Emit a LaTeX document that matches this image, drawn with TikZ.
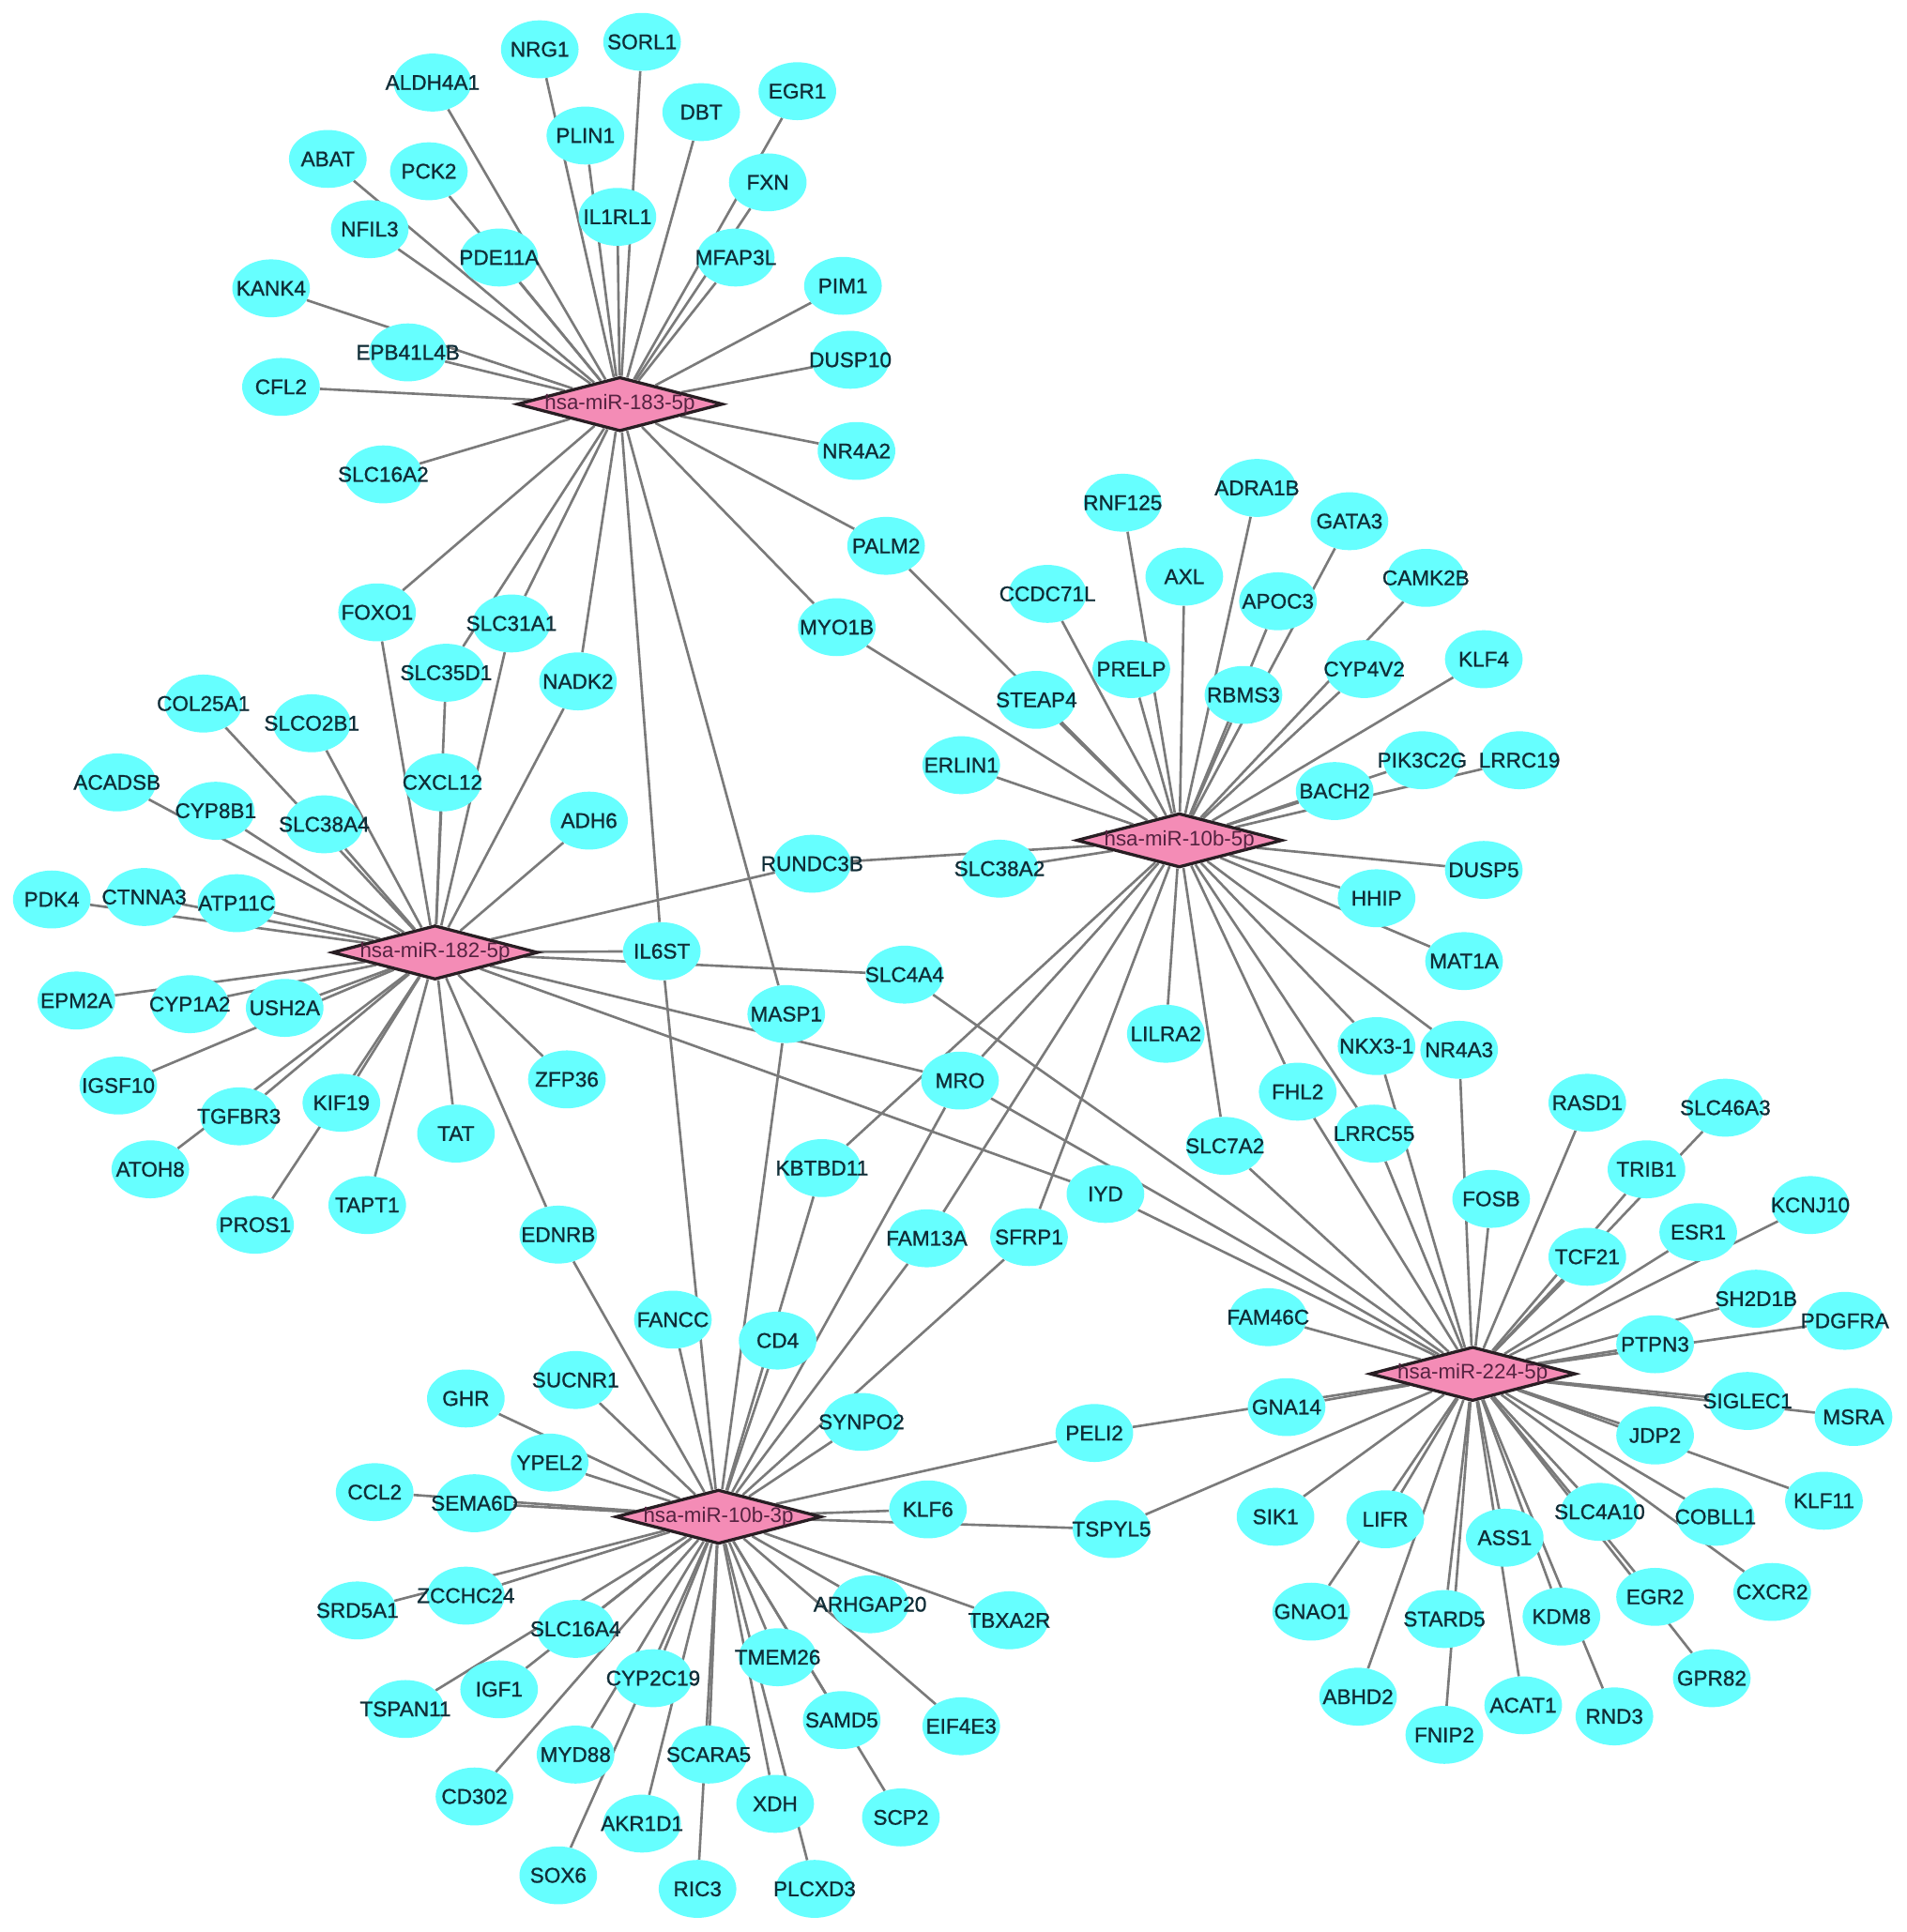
\documentclass[tikz,border=0pt]{standalone}
\usepackage{fontspec}
\usetikzlibrary{shapes.geometric}
\newfontfamily\genefont{Liberation Sans}[FakeBold=1.0]
\newfontfamily\hubfont{Liberation Sans}
\definecolor{genefill}{RGB}{102,255,255}
\definecolor{genetext}{RGB}{15,45,55}
\definecolor{hubfill}{RGB}{244,140,182}
\definecolor{hubdraw}{RGB}{40,30,35}
\definecolor{hubtext}{RGB}{85,35,65}
\definecolor{edgegray}{RGB}{122,122,122}
\pgfdeclarelayer{bg}
\pgfdeclarelayer{edges}
\pgfsetlayers{bg,edges,main}
\tikzset{
  gene/.style={ellipse, fill=genefill, draw=none, minimum width=63pt, minimum height=47pt,
    inner sep=0pt, text=genetext, font={\genefont\fontsize{17.2}{19}\selectfont}},
  mirna/.style={diamond, fill=hubfill, draw=hubdraw, line width=2.5pt, minimum width=167pt,
    minimum height=44pt, inner sep=0pt, text=hubtext, font={\hubfont\fontsize{17}{19}\selectfont}},
  edge/.style={draw=edgegray, line width=2pt}
}
\begin{document}
\begin{tikzpicture}[x=1pt,y=-1pt]
\begin{pgfonlayer}{bg}
\fill[white] (0,0) rectangle (1547,1568);
\end{pgfonlayer}
\useasboundingbox (0,0) rectangle (1547,1568);
% microRNA hubs
\node[mirna] (m183) at (503,328) {\makebox[0pt]{hsa-miR-183-5p}};
\node[mirna] (m182) at (353,773) {\makebox[0pt]{hsa-miR-182-5p}};
\node[mirna] (m10b5) at (957,682) {\makebox[0pt]{hsa-miR-10b-5p}};
\node[mirna] (m224) at (1195,1115) {\makebox[0pt]{hsa-miR-224-5p}};
\node[mirna] (m10b3) at (583,1231) {\makebox[0pt]{hsa-miR-10b-3p}};
% target genes
\foreach \n/\x/\y in {
NRG1/438/40, SORL1/521/34, ALDH4A1/351/67, EGR1/647/74, DBT/569/91, PLIN1/475/110,
ABAT/266/129, PCK2/348/139, FXN/623/148, IL1RL1/501/176, NFIL3/300/186, PDE11A/405/209,
MFAP3L/597/209, KANK4/220/234, PIM1/684/232, EPB41L4B/331/286, DUSP10/690/292, CFL2/228/314,
NR4A2/695/366, SLC16A2/311/385, PALM2/719/443, FOXO1/306/497, SLC31A1/415/506, MYO1B/679/509,
SLC35D1/362/546, NADK2/469/553,
COL25A1/165/571, SLCO2B1/253/587, ACADSB/95/635, CXCL12/359/635, CYP8B1/175/658, SLC38A4/263/669,
ADH6/478/666, PDK4/42/730, CTNNA3/117/728, ATP11C/192/733, EPM2A/62/812, CYP1A2/154/815,
USH2A/231/818, IGSF10/96/881, ZFP36/460/876, TGFBR3/194/906, KIF19/277/895, TAT/370/920,
ATOH8/122/949, PROS1/207/994, TAPT1/298/978, EDNRB/453/1002,
RUNDC3B/659/701, SLC38A2/811/705, IL6ST/537/772, SLC4A4/734/791, MASP1/638/823, MRO/779/877,
LILRA2/946/839, KBTBD11/667/948, IYD/897/969, FAM13A/752/1005, SFRP1/835/1004, FANCC/546/1071,
CD4/631/1088,
RNF125/911/408, ADRA1B/1020/396, GATA3/1095/423, AXL/961/468, CAMK2B/1157/469, CCDC71L/850/482,
APOC3/1037/488, PRELP/918/543, CYP4V2/1107/543, KLF4/1204/535, STEAP4/841/568, RBMS3/1009/564,
ERLIN1/780/621, PIK3C2G/1154/617, LRRC19/1233/617, BACH2/1083/642, DUSP5/1204/706, HHIP/1117/729,
MAT1A/1188/780, NKX3-1/1117/849, NR4A3/1184/852,
FHL2/1053/886, LRRC55/1115/920, SLC7A2/994/930, RASD1/1288/895, SLC46A3/1400/899, TRIB1/1336/949,
FOSB/1210/973, KCNJ10/1469/978, ESR1/1378/1000, TCF21/1288/1020, SH2D1B/1425/1054, FAM46C/1029/1069,
PDGFRA/1497/1072, PTPN3/1343/1091, GNA14/1044/1142, SIGLEC1/1418/1137, MSRA/1504/1150, JDP2/1343/1165,
KLF11/1480/1218, SIK1/1035/1231, LIFR/1124/1233, SLC4A10/1298/1227, COBLL1/1392/1231, ASS1/1221/1248,
EGR2/1343/1296, CXCR2/1438/1292, GNAO1/1064/1308, STARD5/1172/1314, KDM8/1267/1312, GPR82/1389/1362,
ABHD2/1102/1377, ACAT1/1236/1384, RND3/1310/1393, FNIP2/1172/1408,
SUCNR1/467/1120, GHR/378/1135, SYNPO2/699/1154, PELI2/888/1163, YPEL2/446/1187, CCL2/304/1211,
SEMA6D/385/1220, KLF6/753/1225, TSPYL5/902/1241, SRD5A1/290/1307, ZCCHC24/378/1295, ARHGAP20/706/1302,
TBXA2R/819/1315, SLC16A4/467/1322, TSPAN11/329/1387, IGF1/405/1371, CYP2C19/530/1362, TMEM26/631/1345,
SAMD5/683/1396, EIF4E3/780/1401, MYD88/467/1424, SCARA5/575/1424, CD302/385/1458, XDH/629/1464,
SCP2/731/1475, AKR1D1/521/1480, SOX6/453/1522, RIC3/566/1533, PLCXD3/661/1533}
  \node[gene] (\n) at (\x,\y) {\makebox[0pt]{\n}};
% interactions
\begin{pgfonlayer}{edges}
\foreach \t in {NRG1, SORL1, ALDH4A1, EGR1, DBT, PLIN1, ABAT, PCK2, FXN, IL1RL1, NFIL3, PDE11A,
  MFAP3L, KANK4, PIM1, EPB41L4B, DUSP10, CFL2, NR4A2, SLC16A2, PALM2, MYO1B, FOXO1, SLC31A1,
  SLC35D1, NADK2, IL6ST, MASP1}
  \draw[edge] (m183) -- (\t);
\foreach \t in {FOXO1, SLC31A1, SLC35D1, NADK2, CXCL12, ADH6, COL25A1, SLCO2B1, ACADSB, CYP8B1,
  SLC38A4, PDK4, CTNNA3, ATP11C, EPM2A, CYP1A2, USH2A, IGSF10, TGFBR3, ATOH8, KIF19, PROS1, TAPT1,
  TAT, ZFP36, EDNRB, RUNDC3B, IL6ST, SLC4A4, MRO, IYD}
  \draw[edge] (m182) -- (\t);
\foreach \t in {RNF125, ADRA1B, GATA3, AXL, CAMK2B, CCDC71L, APOC3, PRELP, CYP4V2, KLF4, STEAP4,
  RBMS3, ERLIN1, PIK3C2G, LRRC19, BACH2, DUSP5, HHIP, MAT1A, NKX3-1, NR4A3, LRRC55, FHL2, SLC7A2,
  LILRA2, SFRP1, FAM13A, MRO, KBTBD11, SLC38A2, RUNDC3B, MYO1B, PALM2}
  \draw[edge] (m10b5) -- (\t);
\foreach \t in {FHL2, LRRC55, NKX3-1, NR4A3, SLC7A2, FOSB, RASD1, SLC46A3, TRIB1, TCF21, ESR1,
  KCNJ10, SH2D1B, PDGFRA, PTPN3, SIGLEC1, MSRA, JDP2, KLF11, COBLL1, CXCR2, SLC4A10, EGR2, GPR82,
  KDM8, RND3, ASS1, ACAT1, STARD5, FNIP2, LIFR, ABHD2, GNAO1, SIK1, GNA14, PELI2, TSPYL5, FAM46C,
  IYD, MRO, SLC4A4}
  \draw[edge] (m224) -- (\t);
\foreach \t in {SUCNR1, GHR, YPEL2, CCL2, SEMA6D, SRD5A1, ZCCHC24, SLC16A4, TSPAN11, IGF1, CD302,
  MYD88, SOX6, CYP2C19, AKR1D1, SCARA5, RIC3, TMEM26, XDH, PLCXD3, SAMD5, SCP2, ARHGAP20, EIF4E3,
  TBXA2R, KLF6, TSPYL5, PELI2, SYNPO2, SFRP1, FAM13A, MRO, KBTBD11, CD4, FANCC, IL6ST, MASP1, EDNRB}
  \draw[edge] (m10b3) -- (\t);
\end{pgfonlayer}
\end{tikzpicture}
\end{document}
